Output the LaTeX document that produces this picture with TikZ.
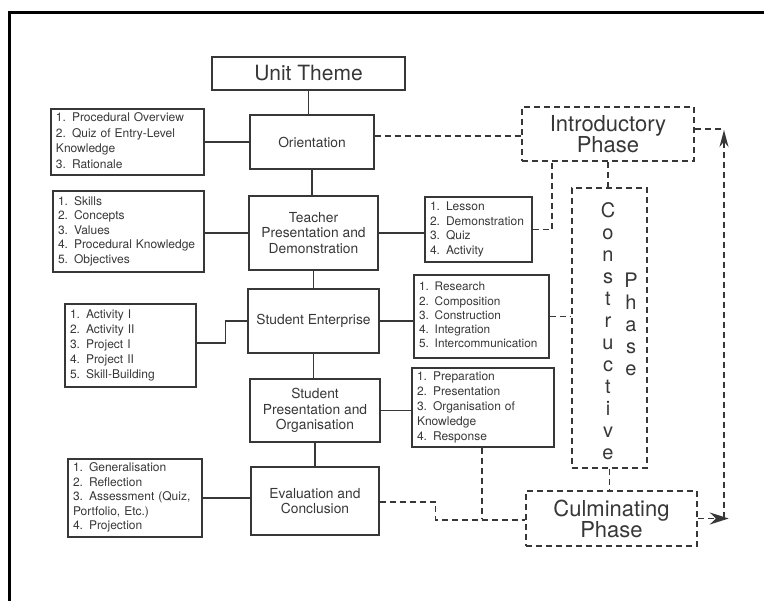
\documentclass[tikz,border=0pt]{standalone}
\usepackage{fontspec}
\setmainfont{TeX Gyre Heros}
\usetikzlibrary{arrows.meta}
\definecolor{ink}{RGB}{55,55,55}
\begin{document}
\begin{tikzpicture}[x=1pt,y=-1pt,
  mainbox/.style={draw=ink, line width=1.3pt, text=ink, inner sep=0pt, align=center, font=\fontsize{13.8}{15.5}\selectfont},
  listbox/.style={draw=ink, line width=1.3pt, text=ink, inner ysep=0pt, inner xsep=5pt, align=left, font=\fontsize{12}{14.8}\selectfont},
  phasebox/.style={draw=ink, line width=1.5pt, dash pattern=on 6pt off 4pt, text=ink, inner sep=0pt, align=center, font=\fontsize{22}{21}\selectfont},
  vertext/.style={text=ink, inner sep=0pt, align=center, anchor=north, font=\fontsize{20}{22}\selectfont},
  conn/.style={draw=ink, line width=1.3pt},
  dconn/.style={draw=ink, line width=1.5pt, dash pattern=on 6pt off 4pt},
]
\useasboundingbox (0,0) rectangle (764,601);
% frame
\draw[black, line width=3pt] (9.5,601) -- (9.5,13) -- (764,13);

% main column
\node[mainbox, font=\fontsize{21}{21}\selectfont, minimum width=193pt, minimum height=33pt] (unit) at (308.5,73.5) {Unit Theme};
\node[mainbox, minimum width=124pt, minimum height=54pt] (orient) at (312,142) {Orientation};
\node[mainbox, minimum width=129pt, minimum height=74pt] (teach) at (313.5,233) {Teacher\\Presentation and\\Demonstration};
\node[mainbox, minimum width=131pt, minimum height=64pt] (enter) at (313.5,321) {Student Enterprise};
\node[mainbox, minimum width=130pt, minimum height=63pt] (spres) at (315,410.5) {Student\\Presentation and\\Organisation};
\node[mainbox, minimum width=128pt, minimum height=68pt] (eval) at (315,501) {Evaluation and\\Conclusion};

% left lists
\node[listbox, font=\fontsize{12}{15.5}\selectfont, text width=143pt, minimum height=66pt] (l1) at (127.5,142) {\begin{tabular}{@{}l@{}}1. Procedural Overview\\2. Quiz of Entry-Level\\Knowledge\\3. Rationale\end{tabular}};
\node[listbox, font=\fontsize{12}{14.5}\selectfont, text width=141pt, minimum height=81pt] (l2) at (128.5,231.5) {\begin{tabular}{@{}l@{}}1. Skills\\2. Concepts\\3. Values\\4. Procedural Knowledge\\5. Objectives\end{tabular}};
\node[listbox, text width=121pt, minimum height=83pt] (l3) at (130.5,345.5) {\begin{tabular}{@{}l@{}}1. Activity I\\2. Activity II\\3. Project I\\4. Project II\\5. Skill-Building\end{tabular}};
\node[listbox, font=\fontsize{12}{14.5}\selectfont, text width=124pt, minimum height=78pt] (l4) at (135,498) {\begin{tabular}{@{}l@{}}1. Generalisation\\2. Reflection\\3. Assessment (Quiz,\\Portfolio, Etc.)\\4. Projection\end{tabular}};

% right lists
\node[listbox, text width=97pt, minimum height=65pt] (r1) at (478.5,229.5) {\begin{tabular}{@{}l@{}}1. Lesson\\2. Demonstration\\3. Quiz\\4. Activity\end{tabular}};
\node[listbox, font=\fontsize{11.8}{14.3}\selectfont, text width=125pt, minimum height=83pt] (r2) at (481.5,316.5) {\begin{tabular}{@{}l@{}}1. Research\\2. Composition\\3. Construction\\4. Integration\\5. Intercommunication\end{tabular}};
\node[listbox, text width=132pt, minimum height=79pt] (r3) at (483,407.5) {\begin{tabular}{@{}l@{}}1. Preparation\\2. Presentation\\3. Organisation of\\Knowledge\\4. Response\end{tabular}};

% phases
\node[phasebox, minimum width=172pt, minimum height=54pt] (intro) at (608,134) {Introductory\\Phase};
\node[phasebox, minimum width=75pt, minimum height=280pt] (constr) at (609.5,328) {};
\node[vertext] (ctext) at (608,202.5) {C\\o\\n\\s\\t\\r\\u\\c\\t\\i\\v\\e};
\node[vertext] (ptext) at (631,272.8) {P\\h\\a\\s\\e};
\node[phasebox, minimum width=171pt, minimum height=55pt] (culm) at (611.5,518.5) {Culminating\\Phase};

% solid connectors
\draw[conn] (unit.south) -- (unit.south |- orient.north);
\draw[conn] (l1.east) -- (l1.east -| orient.west);
\draw[conn] (orient.south) -- (orient.south |- teach.north);
\draw[conn] (teach.west) -- (teach.west -| l2.east);
\draw[conn] (teach.east) -- (teach.east -| r1.west);
\draw[conn] (teach.south) -- (teach.south |- enter.north);
\draw[conn] ([yshift=2.5pt]l3.east) -- ++(29,0) |- (enter.west);
\draw[conn] (enter.east) -- (enter.east -| r2.west);
\draw[conn] (enter.south) -- (enter.south |- spres.north);
\draw[conn] (spres.east) -- (spres.east -| r3.west);
\draw[conn] (spres.south) -- (spres.south |- eval.north);
\draw[conn] (l4.east) -- (l4.east -| eval.west);

% dashed connectors
\draw[dconn] ([yshift=6pt]orient.east) -- ([yshift=6pt]orient.east -| intro.west);
\draw[dconn] (r1.east) -| ([xshift=-56pt]intro.south);
\draw[dconn] (intro.south) -- (intro.south |- constr.north);
\draw[dconn] (r2.east) -- (r2.east -| constr.west);
\draw[dconn] (constr.south) -- (constr.south |- culm.north);
\draw[dconn] ([yshift=-1pt]eval.east) -- ++(56,0) |- ([yshift=-1.5pt]culm.west);
\draw[dconn] ([xshift=-1pt]r3.south) -- ([xshift=-1pt]r3.south |- culm.west);

% return loop
\coordinate (rtop) at (724,129);
\coordinate (rbot) at (724,518.5);
\draw[dconn] ([yshift=5pt]intro.east) -- (rtop);
\draw[dconn, -{Stealth[length=17pt,width=9pt]}] (rbot) -- ([yshift=-1pt]rtop);
\draw[dconn, -{Stealth[length=19pt,width=12pt]}] (culm.east) -- ++(31,0);
\end{tikzpicture}
\end{document}
